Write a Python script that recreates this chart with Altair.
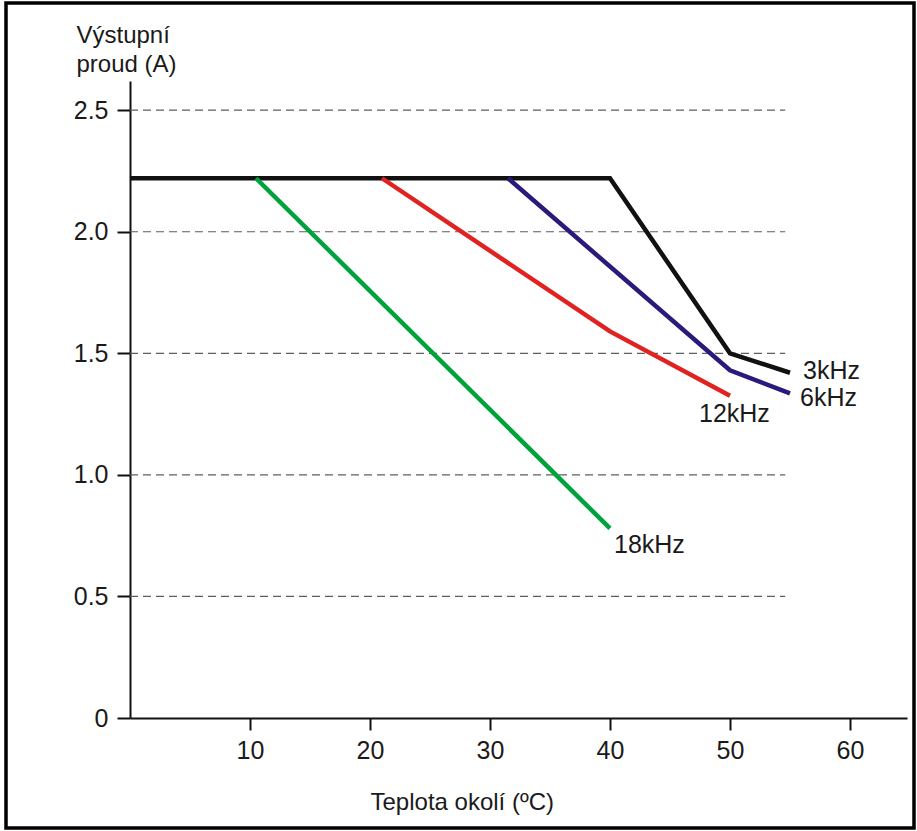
import altair as alt
import pandas as pd

# Output current derating curves per switching frequency
series_names = ["3kHz", "6kHz", "12kHz", "18kHz"]
temps_3k = [0, 40, 50, 55]
amps_3k = [2.22, 2.22, 1.50, 1.42]
temps_6k = [31.5, 50, 55]
amps_6k = [2.22, 1.43, 1.335]
temps_12k = [21, 40, 50]
amps_12k = [2.22, 1.59, 1.325]
temps_18k = [10.5, 40]
amps_18k = [2.22, 0.78]

line_colors = ["#111111", "#2a1a7c", "#e02320", "#00a23c"]

x_ticks = [10, 20, 30, 40, 50, 60]
y_ticks = [0, 0.5, 1.0, 1.5, 2.0, 2.5]
grid_levels = [0.5, 1.0, 1.5, 2.0, 2.5]
grid_end = 54.6

FONT = "Liberation Sans"

rows = []
for name, ts, vs in zip(series_names,
                        [temps_3k, temps_6k, temps_12k, temps_18k],
                        [amps_3k, amps_6k, amps_12k, amps_18k]):
    for i, (t, v) in enumerate(zip(ts, vs)):
        rows.append({"series": name, "temp": t, "amp": v, "idx": i})
curves = pd.DataFrame(rows)
grid = pd.DataFrame({"amp": grid_levels, "t0": [0] * len(grid_levels),
                     "t1": [grid_end] * len(grid_levels)})

x_scale = alt.Scale(domain=[0, 64.75], nice=False, zero=False)
y_scale = alt.Scale(domain=[0, 2.62], nice=False)

x_axis = alt.Axis(
    values=x_ticks, grid=False, domainColor="#111", domainWidth=2,
    tickColor="#111", tickWidth=2, tickSize=12, labelFontSize=25,
    labelFont=FONT, labelColor="#1a1a1a", labelPadding=8,
    title="Teplota okolí (ºC)", titleFont=FONT, titleFontSize=24,
    titleFontWeight="normal", titleColor="#1a1a1a",
    titleX=240, titleY=91, titleAlign="left", titleBaseline="alphabetic",
)
y_axis = alt.Axis(
    values=y_ticks, grid=False, domainColor="#111", domainWidth=2,
    tickColor="#111", tickWidth=2, tickSize=13, labelFontSize=25,
    labelFont=FONT, labelColor="#1a1a1a", labelPadding=9,
    labelExpr="datum.value == 0 ? '0' : format(datum.value, '.1f')",
    title=["Výstupní", "proud (A)"], titleFont=FONT, titleFontSize=24,
    titleFontWeight="normal", titleColor="#1a1a1a", titleAngle=0,
    titleX=-54, titleY=-39, titleAlign="left", titleBaseline="alphabetic",
    titleLineHeight=29,
)

base = alt.Chart(curves)

gridlines = alt.Chart(grid).mark_rule(
    color="#5e5e5e", strokeWidth=1.2, strokeDash=[8, 5]
).encode(
    x=alt.X("t0:Q", scale=x_scale, axis=x_axis),
    x2="t1:Q",
    y=alt.Y("amp:Q", scale=y_scale, axis=y_axis),
)

lines = base.mark_line(strokeWidth=4.5, strokeCap="butt", strokeJoin="miter").encode(
    x=alt.X("temp:Q", scale=x_scale),
    y=alt.Y("amp:Q", scale=y_scale),
    color=alt.Color("series:N", scale=alt.Scale(domain=series_names[::-1],
                                                range=line_colors[::-1]),
                    legend=None),
    order="idx:Q",
)

# label offsets (dx, dy) next to each curve's last point
label_offsets = {"3kHz": (13, -2), "6kHz": (10, 5), "12kHz": (-31, 18), "18kHz": (4, 17)}
label_layers = []
for name in series_names:
    dx, dy = label_offsets[name]
    last = curves[curves.series == name].tail(1)
    label_layers.append(
        alt.Chart(last).mark_text(
            text=name, align="left", baseline="middle", dx=dx, dy=dy,
            font=FONT, fontSize=25, color="#1a1a1a"
        ).encode(x=alt.X("temp:Q", scale=x_scale), y=alt.Y("amp:Q", scale=y_scale))
    )

frame = alt.Chart(pd.DataFrame({"k": [0]})).mark_rect(
    filled=False, stroke="#000000", strokeWidth=3.5
).encode(
    x=alt.value(-124), x2=alt.value(784), y=alt.value(-78), y2=alt.value(747)
)

chart = alt.layer(gridlines, lines, *label_layers, frame).properties(
    width=777, height=637,
    autosize=alt.AutoSizeParams(type="none"),
    padding={"left": 130, "top": 81, "right": 10, "bottom": 113},
    background="white",
).configure_view(strokeWidth=0)

chart.save("out.html", embed_options={"renderer": "svg", "actions": False})
